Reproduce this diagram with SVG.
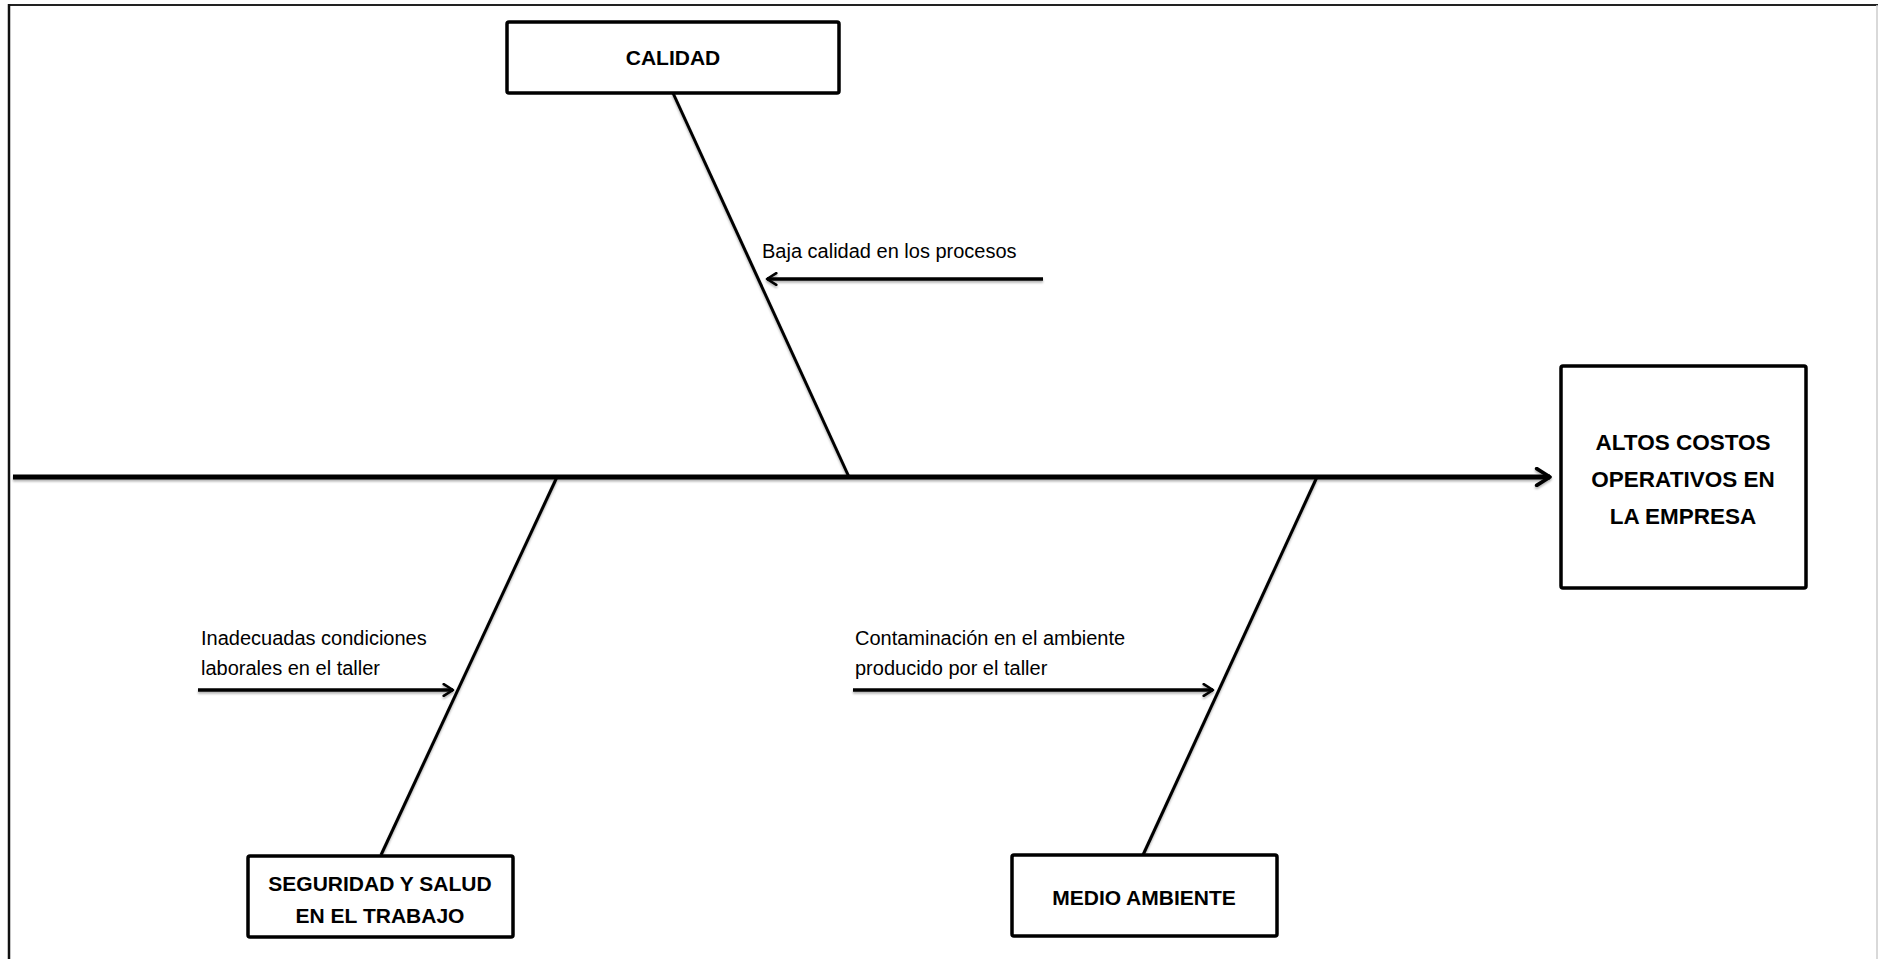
<svg xmlns="http://www.w3.org/2000/svg" width="1878" height="959" viewBox="0 0 1878 959">
<style>
.box{fill:#fff;stroke:#000;stroke-width:3.5}
.title{font-family:"Liberation Sans",Arial,sans-serif;font-weight:bold;font-size:21px;fill:#000;text-anchor:middle}
.big{font-size:22.5px}
.lbl{font-family:"Liberation Sans",Arial,sans-serif;font-size:20px;fill:#000}
.bone{stroke:#000;stroke-width:3;fill:none}
.sub{stroke:#000;stroke-width:3.5;fill:none}
</style>
<defs>
<filter id="sh" x="-5%" y="-5%" width="110%" height="120%">
<feDropShadow dx="0" dy="2" stdDeviation="1.2" flood-color="#000" flood-opacity="0.3"/>
</filter>
<marker id="open" viewBox="0 0 12 12" refX="10" refY="6" markerWidth="4" markerHeight="4" markerUnits="strokeWidth" orient="auto">
<path d="M2,1 L10,6 L2,11" fill="none" stroke="#000" stroke-width="2.2" stroke-linecap="round" stroke-linejoin="round"/>
</marker>
</defs>
<rect width="1878" height="959" fill="#fff"/>
<g id="frame">
<line x1="9" y1="5" x2="1878" y2="5" stroke="#222" stroke-width="2"/>
<line x1="9" y1="4" x2="9" y2="959" stroke="#111" stroke-width="2.5"/>
<line x1="1877" y1="5" x2="1877" y2="959" stroke="#ccc" stroke-width="1.5"/>
</g>
<g id="connectors" filter="url(#sh)">
<line id="spine" x1="13" y1="477" x2="1550" y2="477" stroke="#000" stroke-width="5" marker-end="url(#open)"/>
<line class="bone" x1="673" y1="93" x2="849" y2="477"/>
<line class="bone" x1="557" y1="477" x2="381" y2="855"/>
<line class="bone" x1="1317" y1="477" x2="1143" y2="855"/>
<line class="sub" x1="1043" y1="279" x2="767" y2="279" marker-end="url(#open)"/>
<line class="sub" x1="198" y1="690" x2="453" y2="690" marker-end="url(#open)"/>
<line class="sub" x1="853" y1="690" x2="1213" y2="690" marker-end="url(#open)"/>
</g>
<g id="calidad">
<rect class="box" x="507" y="22" width="332" height="71" rx="2"/>
<text class="title" x="673" y="65">CALIDAD</text>
</g>
<g id="efecto">
<rect class="box" x="1561" y="366" width="245" height="222" rx="2"/>
<text class="title big" x="1683" y="450">ALTOS COSTOS</text>
<text class="title big" x="1683" y="487">OPERATIVOS EN</text>
<text class="title big" x="1683" y="524">LA EMPRESA</text>
</g>
<g id="seguridad">
<rect class="box" x="248" y="856" width="265" height="81" rx="2"/>
<text class="title" x="380" y="891">SEGURIDAD Y SALUD</text>
<text class="title" x="380" y="923">EN EL TRABAJO</text>
</g>
<g id="medio">
<rect class="box" x="1012" y="855" width="265" height="81" rx="2"/>
<text class="title" x="1144" y="905">MEDIO AMBIENTE</text>
</g>
<g id="causa-calidad">
<text class="lbl" x="762" y="258">Baja calidad en los procesos</text>
</g>
<g id="causa-seguridad">
<text class="lbl" x="201" y="645">Inadecuadas condiciones</text>
<text class="lbl" x="201" y="675">laborales en el taller</text>
</g>
<g id="causa-medio">
<text class="lbl" x="855" y="645">Contaminación en el ambiente</text>
<text class="lbl" x="855" y="675">producido por el taller</text>
</g>
</svg>
